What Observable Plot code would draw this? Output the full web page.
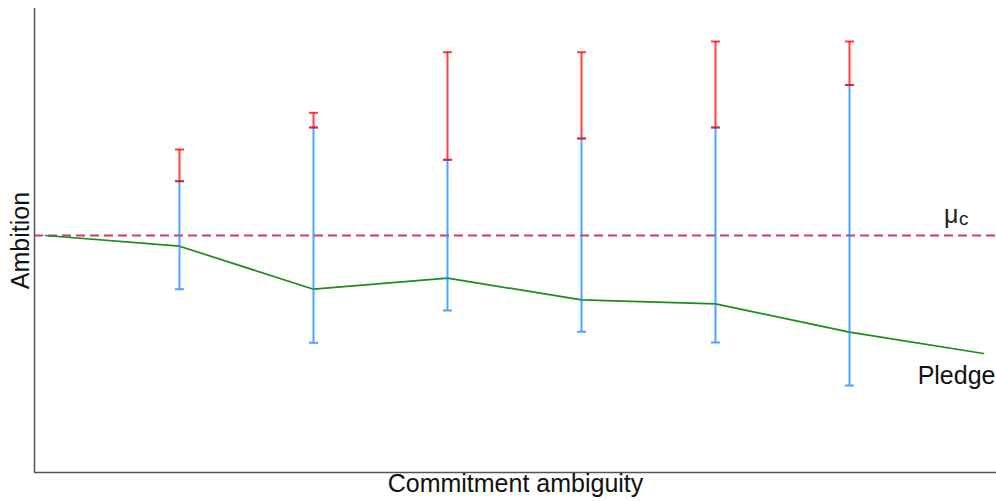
<!DOCTYPE html>
<html>
<head>
<meta charset="utf-8">
<script src="https://cdn.jsdelivr.net/npm/d3@7"></script>
<script src="https://cdn.jsdelivr.net/npm/@observablehq/plot@0.6"></script>
<style>
  html, body { margin: 0; padding: 0; background: #fff; }
  #chart svg { display: block; }
</style>
</head>
<body>
<div id="chart"></div>
<script>
// Commitment ambiguity levels (0 = no ambiguity)
const levels = [0, 1, 2, 3, 4, 5, 6, 7];
// Pledge line (relative to mu_C = 0)
const pledge = [0, -1.07, -5.37, -4.27, -6.43, -6.83, -9.67, -11.8];
// Error-bar positions
const barLevels = [1, 2, 3, 4, 5, 6];
const barLow  = [-5.37, -10.73, -7.5, -9.63, -10.7, -15.0];
const barMid  = [5.43, 10.8, 7.57, 9.7, 10.8, 15.05];
const barHigh = [8.6, 12.27, 18.33, 18.33, 19.4, 19.4];
const muC = 0;

const xDomain = [-0.082, 7.097];
const yDomain = [-23.7, 22.7];

const line = levels.map((x, i) => ({x, y: pledge[i]}));
const bars = barLevels.map((x, i) => ({x, low: barLow[i], mid: barMid[i], high: barHigh[i]}));

const cap = {
  draw(context, size) {
    const r = Math.sqrt(size / Math.PI);
    context.moveTo(-r, 0);
    context.lineTo(r, 0);
  }
};

const blue = "#1E90FF", red = "#FF0000";

const chart = Plot.plot({
  width: 996,
  height: 501,
  marginLeft: 34,
  marginRight: 0,
  marginTop: 8,
  marginBottom: 29,
  x: {domain: xDomain, axis: null},
  y: {domain: yDomain, axis: null},
  style: {fontFamily: "Liberation Sans, Arial, sans-serif", fontSize: "25px", background: "#fff"},
  marks: [
    Plot.ruleX([xDomain[0]], {stroke: "#555", strokeWidth: 1.5}),
    Plot.ruleY([yDomain[0]], {stroke: "#555", strokeWidth: 1.5}),
    Plot.ruleY([muC], {stroke: "#c8285a", strokeWidth: 2, strokeDasharray: "9,5", strokeOpacity: 0.9}),
    Plot.line(line, {x: "x", y: "y", stroke: "#1a8c1a", strokeWidth: 1.7}),
    // blue bars (low to mid)
    Plot.ruleX(bars, {x: "x", y1: "low", y2: "mid", stroke: blue, strokeWidth: 2, strokeOpacity: 0.8}),
    Plot.dot(bars, {x: "x", y: "low", symbol: cap, r: 4.5, stroke: blue, fill: "none", strokeWidth: 2, strokeOpacity: 0.8}),
    Plot.dot(bars, {x: "x", y: "mid", symbol: cap, r: 4.5, stroke: blue, fill: "none", strokeWidth: 2, strokeOpacity: 0.8}),
    // red bars (mid to high)
    Plot.ruleX(bars, {x: "x", y1: "mid", y2: "high", stroke: red, strokeWidth: 2, strokeOpacity: 0.75}),
    Plot.dot(bars, {x: "x", y: "mid", symbol: cap, r: 4.5, stroke: red, fill: "none", strokeWidth: 2, strokeOpacity: 0.75}),
    Plot.dot(bars, {x: "x", y: "high", symbol: cap, r: 4.5, stroke: red, fill: "none", strokeWidth: 2, strokeOpacity: 0.75}),
    // labels
    Plot.text([muC], {y: d => d, frameAnchor: "right", text: () => "μ", textAnchor: "end", lineAnchor: "bottom", dx: -38, dy: -13, fill: "#222", fontSize: 25}),
    Plot.text([muC], {y: d => d, frameAnchor: "right", text: () => "c", textAnchor: "end", lineAnchor: "bottom", dx: -28, dy: -11, fill: "#222", fontSize: 19}),
    Plot.text([line[line.length - 1]], {x: "x", y: "y", text: () => "Pledge", textAnchor: "end", lineAnchor: "bottom", dx: 12, dy: 30, fill: "#111", fontSize: 25}),
    Plot.text(["Commitment ambiguity"], {frameAnchor: "bottom", text: d => d, textAnchor: "middle", dy: 19, fill: "#111", fontSize: 25}),
    Plot.text(["Ambition"], {frameAnchor: "left", text: d => d, textAnchor: "middle", rotate: -90, dx: -14, fill: "#111", fontSize: 25})
  ]
});
document.getElementById("chart").appendChild(chart);
</script>
</body>
</html>
